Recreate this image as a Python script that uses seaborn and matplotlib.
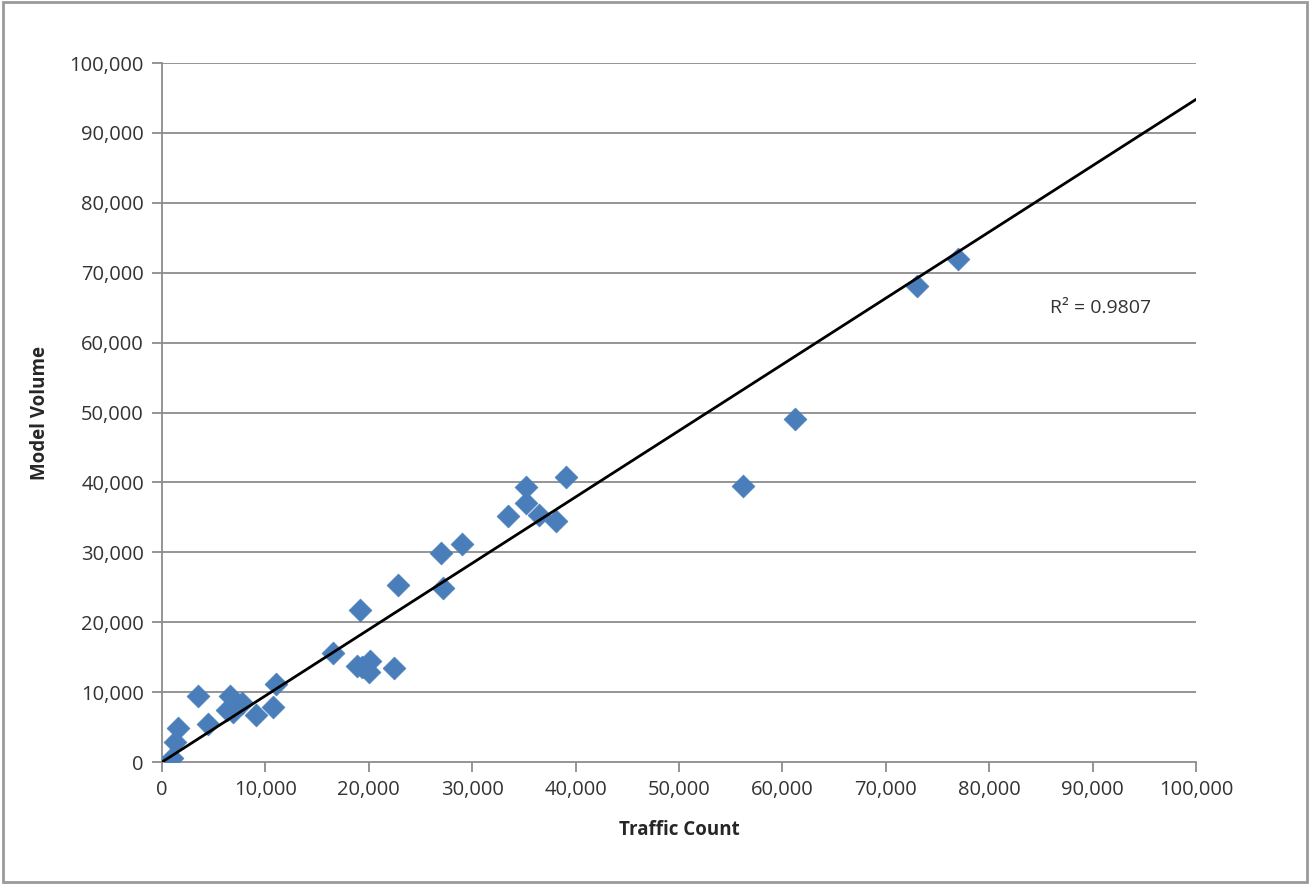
import numpy as np
import pandas as pd
import matplotlib
matplotlib.use("Agg")
import matplotlib.pyplot as plt
import matplotlib.ticker as mticker
from matplotlib.patches import Rectangle
import seaborn as sns

# values
traffic_count = [1000, 1300, 1500, 3500, 4400, 6600, 6300, 7200, 6900, 7700,
                 9100, 10700, 11000, 16500, 19100, 18900, 20100, 20000, 19300,
                 22400, 22800, 27200, 27000, 29000, 33500, 35200, 35200, 36500,
                 38100, 39100, 56200, 61200, 73000, 77000]
model_volume = [600, 2900, 4800, 9400, 5500, 9400, 7400, 8200, 7200, 8400,
                6700, 7800, 11200, 15600, 21800, 13700, 14400, 12900, 13600,
                13500, 25300, 24900, 29900, 31200, 35200, 37100, 39300, 35300,
                34500, 40800, 39500, 49100, 68100, 71900]

trend_x = [0, 100000]
trend_y = [0, 94800]
r_squared = "0.9807"

df = pd.DataFrame({"Traffic Count": traffic_count, "Model Volume": model_volume})

sns.set_style("white")
plt.rcParams['font.family'] = ['Open Sans', 'DejaVu Sans']

fig = plt.figure(figsize=(13.1, 8.84), dpi=100)
ax = fig.add_axes([0.1237, 0.138, 0.7893, 0.7907])

# chart area border
fig.patches.append(Rectangle((0.002, 0.002), 0.996, 0.996, transform=fig.transFigure,
                             fill=False, edgecolor='#9a9a9a', linewidth=2))

for yv in range(10000, 100001, 10000):
    ax.axhline(yv, color='#8c8c8c', linewidth=1.3, zorder=0)

sns.scatterplot(data=df, x="Traffic Count", y="Model Volume", marker='D', s=135,
                color='#4a7ebb', edgecolor='#4a7ebb', linewidth=0.5, ax=ax, zorder=3)
sns.lineplot(x=trend_x, y=trend_y, color='black', linewidth=2, ax=ax, zorder=4)

ax.set_xlim(0, 100000)
ax.set_ylim(0, 100000)
ax.xaxis.set_major_locator(mticker.MultipleLocator(10000))
ax.yaxis.set_major_locator(mticker.MultipleLocator(10000))
fmt = mticker.FuncFormatter(lambda v, p: f"{int(v):,}")
ax.xaxis.set_major_formatter(fmt)
ax.yaxis.set_major_formatter(fmt)

for s in ['top', 'right']:
    ax.spines[s].set_visible(False)
for s in ['left', 'bottom']:
    ax.spines[s].set_color('#8c8c8c')
    ax.spines[s].set_linewidth(1.3)

ax.tick_params(axis='both', which='major', direction='out', length=7, width=1.3,
               color='#8c8c8c', labelsize=14.5, labelcolor='#333333', pad=6)
ax.tick_params(axis='x', bottom=True)
ax.tick_params(axis='y', left=True)

ax.set_xlabel("Traffic Count", fontsize=13.5, fontweight='bold', labelpad=14)
ax.set_ylabel("Model Volume", fontsize=13.5, fontweight='bold', labelpad=14)

ax.text(85900, 64300, f"R² = {r_squared}", fontsize=14, color='#333333')

fig.savefig("out.png", dpi=100)
